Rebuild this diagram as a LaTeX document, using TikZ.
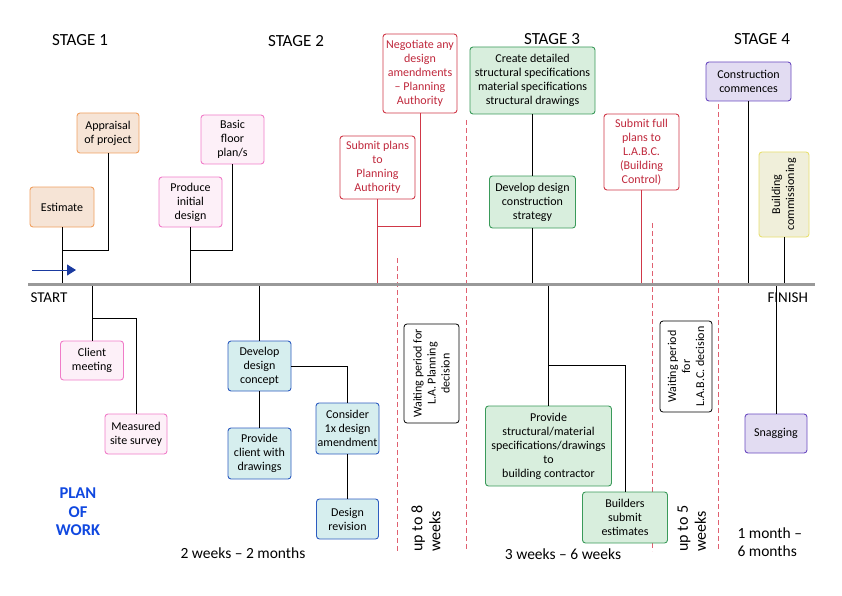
\documentclass[tikz,border=0pt]{standalone}
\usepackage{fontspec}
\setmainfont{Carlito}
\usepackage{tikz}
\usetikzlibrary{arrows.meta}
\usetikzlibrary{positioning}

\definecolor{orangeline}{HTML}{F0A060}
\definecolor{orangefill}{HTML}{F6E4D6}
\definecolor{pinkline}{HTML}{F07CC8}
\definecolor{pinkfill}{HTML}{FDF0F8}
\definecolor{redline}{HTML}{D03848}
\definecolor{redtext}{HTML}{C0283C}
\definecolor{reddash}{HTML}{E06070}
\definecolor{greenline}{HTML}{3A9A5A}
\definecolor{greenfill}{HTML}{D8EEDD}
\definecolor{blueline}{HTML}{2C5CC0}
\definecolor{bluefill}{HTML}{D6EEEE}
\definecolor{purpleline}{HTML}{6A4AC0}
\definecolor{purplefill}{HTML}{E2DCF2}
\definecolor{yellowline}{HTML}{E8E070}
\definecolor{yellowfill}{HTML}{F0EFDA}
\definecolor{titleblue}{HTML}{1048E0}
\definecolor{arrowblue}{HTML}{1A3AA0}

\tikzset{
  box/.style = {draw, rounded corners = 3pt, align = center, inner sep = 1pt,
    line width = 0.9pt, font = \fontsize{12}{14}\selectfont},
  boxsize/.style 2 args = {minimum width = #1, minimum height = #2},
  orangebox/.style = {box, draw = orangeline, fill = orangefill},
  pinkbox/.style = {box, draw = pinkline, fill = pinkfill},
  redbox/.style = {box, draw = redline, fill = white, text = redtext},
  greenbox/.style = {box, draw = greenline, fill = greenfill},
  bluebox/.style = {box, draw = blueline, fill = bluefill},
  purplebox/.style = {box, draw = purpleline, fill = purplefill},
  yellowbox/.style = {box, draw = yellowline, fill = yellowfill},
  waitbox/.style = {box, draw = black, fill = white, line width = 0.8pt},
  stage/.style = {font = \fontsize{17}{19}\selectfont},
  span/.style = {font = \fontsize{15.5}{18}\selectfont, align = left},
  link/.style = {draw = black, line width = 0.8pt},
  redlink/.style = {draw = redline, line width = 0.8pt},
  gap/.style = {draw = reddash, line width = 0.9pt, dash pattern = on 5pt off 3pt},
}

\begin{document}
\begin{tikzpicture}[x = 1pt, y = -1pt]
  \useasboundingbox (0,0) rectangle (842,596);
  % timeline
  \coordinate (start) at (28,284);
  \coordinate (finish) at (815,284);
  % stage titles
  \node [stage] (stage1) at (80,40) {STAGE 1};
  \node [stage] (stage2) at (296,41) {STAGE 2};
  \node [stage] (stage3) at (552,39) {STAGE 3};
  \node [stage] (stage4) at (762,39) {STAGE 4};
  % waiting gaps
  \draw [gap] (397,258) -- (397,551);
  \draw [gap] (466,120) -- (466,551);
  \draw [gap] (652,223) -- (652,551);
  \draw [gap] (718,104) -- (718,551);
  % nodes above the line
  \node [orangebox, boxsize = {64pt}{40pt}] (estimate) at (62,207) {Estimate};
  \node [orangebox, boxsize = {62pt}{40pt}] (appraisal) at (108,133) {Appraisal\\of project};
  \node [pinkbox, boxsize = {63pt}{50pt}] (produce) at (190.5,202) {Produce\\initial\\design};
  \node [pinkbox, boxsize = {63pt}{49pt}] (floorplan) at (232.5,139.5) {Basic\\floor\\plan/s};
  \node [redbox, boxsize = {75pt}{63pt}] (submit) at (377.5,167.5) {Submit plans\\to\\Planning\\Authority};
  \node [redbox, boxsize = {74pt}{79pt}] (negotiate) at (420,73.5) {Negotiate any\\design\\amendments\\-- Planning\\Authority};
  \node [greenbox, boxsize = {125pt}{67pt}] (detailed) at (532.5,80.5) {Create detailed\\structural specifications\\material specifications\\structural drawings};
  \node [greenbox, boxsize = {86pt}{52pt}] (strategy) at (532.5,202) {Develop design\\construction\\strategy};
  \node [redbox, boxsize = {75pt}{76pt}] (fullplans) at (641.5,152) {Submit full\\plans to\\L.A.B.C.\\(Building\\Control)};
  \node [purplebox, boxsize = {85pt}{39pt}] (construction) at (748.5,81.5) {Construction\\commences};
  \node [yellowbox, rotate = 90, boxsize = {85pt}{50pt}] (commissioning) at (784,194.5) {Building\\commissioning};
  % nodes below the line
  \node [pinkbox, boxsize = {63pt}{39pt}] (client) at (92,360.5) {Client\\meeting};
  \node [pinkbox, boxsize = {62pt}{40pt}] (survey) at (136,434) {Measured\\site survey};
  \node [bluebox, boxsize = {63pt}{50pt}] (concept) at (259.5,366) {Develop\\design\\concept};
  \node [bluebox, boxsize = {63pt}{51pt}] (drawings) at (259.5,453.5) {Provide\\client with\\drawings};
  \node [bluebox, boxsize = {63pt}{51pt}] (amendment) at (347.5,428.5) {Consider\\1x design\\amendment};
  \node [bluebox, boxsize = {62pt}{40pt}] (revision) at (347.5,519) {Design\\revision};
  \node [waitbox, rotate = 90, boxsize = {99pt}{55pt}] (waitla) at (431.5,373.5) {Waiting period for\\L.A. Planning\\decision};
  \node [greenbox, boxsize = {126pt}{80pt}] (provide) at (548.5,446) {Provide\\structural/material\\specifications/drawings\\to\\building contractor};
  \node [greenbox, boxsize = {85pt}{51pt}] (builders) at (625,517.5) {Builders\\submit\\estimates};
  \node [waitbox, rotate = 90, boxsize = {91pt}{52pt}] (waitlabc) at (686,366.5) {Waiting period\\for\\L.A.B.C. decision};
  \node [purplebox, boxsize = {62pt}{39pt}] (snagging) at (776,433.5) {Snagging};
  % labels
  \node [anchor = west, font = \fontsize{15}{17}\selectfont] (startlabel) at (27,298) {START};
  \node [anchor = west, font = \fontsize{15}{17}\selectfont] (finishlabel) at (764,298) {FINISH};
  \node [align = center, text = titleblue, font = \fontsize{16.5}{18.5}\bfseries] (plan) at (78,512) {PLAN\\OF\\WORK};
  \node [span] (stage2span) at (243,553) {2 weeks -- 2 months};
  \node [span] (stage3span) at (563,554) {3 weeks -- 6 weeks};
  \node [span, anchor = north west] (stage4span) at (734,524) {1 month --\\6 months};
  \node [span, font = \fontsize{16}{18}\selectfont, rotate = 90, anchor = north west] (gap1span) at (408,555) {up to 8\\weeks};
  \node [span, font = \fontsize{16}{18}\selectfont, rotate = 90, anchor = north west] (gap2span) at (674,555) {up to 5\\weeks};
  % junctions
  \coordinate (jestimate) at (62,250);
  \coordinate (jproduce) at (190.5,250);
  \coordinate (jsubmit) at (377.5,226);
  \coordinate (jclient) at (92,318);
  \coordinate (jprovide) at (548.5,365);
  % paths
  \draw [link] (estimate) -- (estimate |- start);
  \draw [link] (appraisal) |- (jestimate);
  \draw [link] (produce) -- (produce |- start);
  \draw [link] (floorplan) |- (jproduce);
  \draw [redlink] (submit) -- (submit |- start);
  \draw [redlink] (negotiate) |- (jsubmit);
  \draw [link] (detailed) -- (strategy);
  \draw [link] (strategy) -- (strategy |- start);
  \draw [redlink] (fullplans) -- (fullplans |- start);
  \draw [link] (construction) -- (construction |- start);
  \draw [link] (commissioning) -- (commissioning |- start);
  \draw [link] (client) -- (client |- start);
  \draw [link] (survey) |- (jclient);
  \draw [link] (concept) -- (concept |- start);
  \draw [link] (concept) -- (drawings);
  \draw [link] (concept.east) -| (amendment);
  \draw [link] (amendment) -- (revision);
  \draw [link] (provide) -- (provide |- start);
  \draw [link] (builders) |- (jprovide);
  \draw [link] (snagging) -- (snagging |- start);
  % the line itself
  \draw [line width = 3pt, draw = black!40] (start) -- (finish);
  \coordinate (arrowtail) at (32,270);
  \coordinate (arrowtip) at (76,270);
  \draw [draw = arrowblue, line width = 1pt, -{Triangle[length = 9pt, width = 11pt]}] (arrowtail) -- (arrowtip);
\end{tikzpicture}
\end{document}
